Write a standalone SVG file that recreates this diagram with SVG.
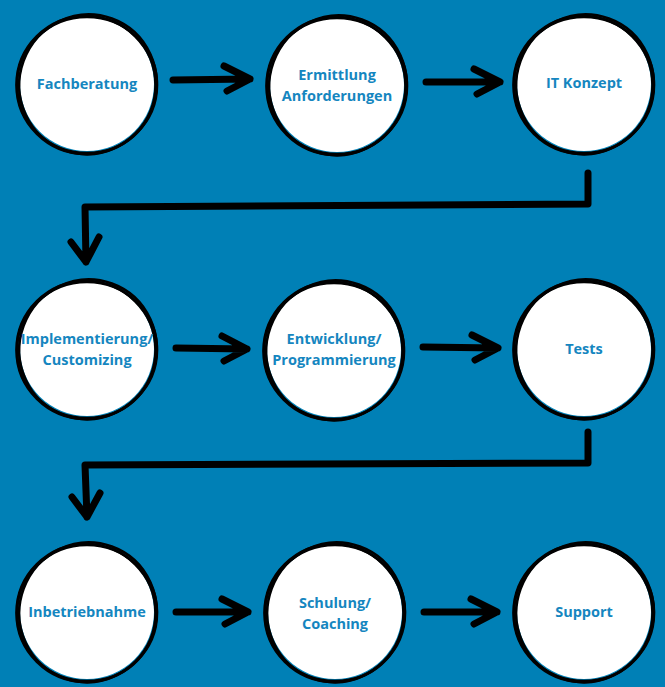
<svg xmlns="http://www.w3.org/2000/svg" xmlns:xlink="http://www.w3.org/1999/xlink" width="665" height="687" viewBox="0 0 665 687">
<style>
.lbl{font-family:"Open Sans","Noto Sans","Liberation Sans",sans-serif;font-weight:700;font-size:14.5px;fill:#1586c0;text-anchor:middle}
.con{fill:none;stroke:#000;stroke-width:7;stroke-linecap:round;stroke-linejoin:round}
.ink{fill:none;stroke:#000;stroke-width:2.6}
</style>
<defs>
<g id="ring">
<circle r="67" fill="#fff"/>
<ellipse cx="0" cy="1" rx="70" ry="68" class="ink"/>
<ellipse cx="1" cy="0" rx="68.5" ry="70" class="ink" transform="rotate(20)"/>
<ellipse cx="-1" cy="1" rx="69.5" ry="69" class="ink" stroke-width="1.6"/>
</g>
</defs>
<rect width="665" height="687" fill="#0080b6"/>
<g id="connectors">
<path class="con" d="M173 80 L250 79 M224 66 L250 79 L227 91"/>
<path class="con" d="M426 82 L500 82 M474 69 L500 82 L477 94"/>
<path class="con" d="M588 173 L588 204 L85 207 L86 262 M71 242 L86 262 L99 237"/>
<path class="con" d="M176 348 L247 349 M222 336 L247 349 L224 361"/>
<path class="con" d="M423 347 L498 348 M472 335 L498 348 L475 360"/>
<path class="con" d="M588 432 L588 463 L85 465 L87 517 M72 497 L87 517 L100 493"/>
<path class="con" d="M176 612 L248 612 M222 599 L248 612 L225 624"/>
<path class="con" d="M424 612 L497 612 M471 599 L497 612 L474 624"/>
</g>
<g id="n1" transform="translate(87,84)"><use xlink:href="#ring"/><text class="lbl" y="5">Fachberatung</text></g>
<g id="n2" transform="translate(337,85)"><use xlink:href="#ring"/><text class="lbl" y="-5">Ermittlung</text><text class="lbl" y="16">Anforderungen</text></g>
<g id="n3" transform="translate(584,84)"><use xlink:href="#ring"/><text class="lbl" y="4">IT Konzept</text></g>
<g id="n4" transform="translate(87,349)"><use xlink:href="#ring"/><text class="lbl" y="-5">Implementierung/</text><text class="lbl" y="16">Customizing</text></g>
<g id="n5" transform="translate(334,350)"><use xlink:href="#ring"/><text class="lbl" y="-6">Entwicklung/</text><text class="lbl" y="15">Programmierung</text></g>
<g id="n6" transform="translate(584,349)"><use xlink:href="#ring"/><text class="lbl" y="5">Tests</text></g>
<g id="n7" transform="translate(87,612)"><use xlink:href="#ring"/><text class="lbl" y="5">Inbetriebnahme</text></g>
<g id="n8" transform="translate(335,612)"><use xlink:href="#ring"/><text class="lbl" y="-4">Schulung/</text><text class="lbl" y="17">Coaching</text></g>
<g id="n9" transform="translate(584,612)"><use xlink:href="#ring"/><text class="lbl" y="5">Support</text></g>
</svg>
